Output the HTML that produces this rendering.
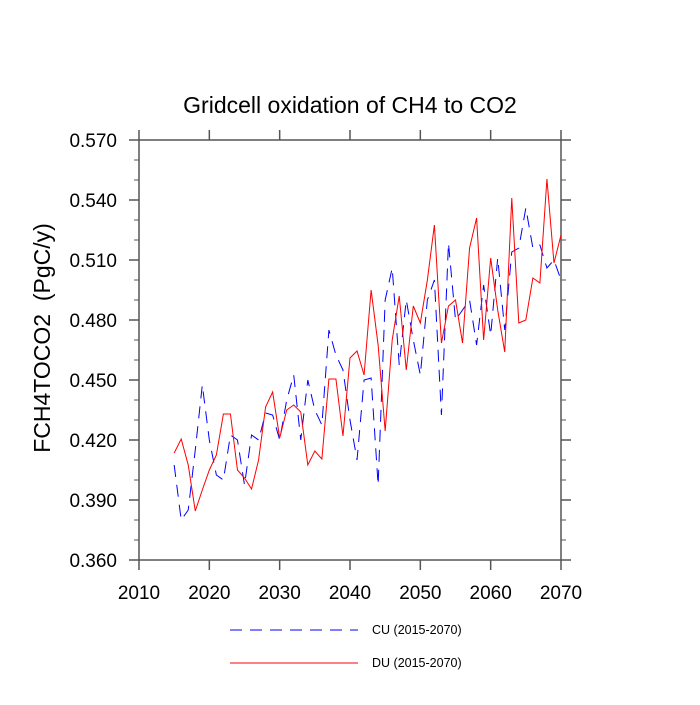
<!DOCTYPE html>
<html><head><meta charset="utf-8"><style>
body{margin:0;background:#fff;}
svg text{font-family:"Liberation Sans",Arial,sans-serif;}
</style></head><body>
<svg id="chart" width="700" height="700" xmlns="http://www.w3.org/2000/svg">
<rect width="700" height="700" fill="#fff"/>
<text x="350" y="113" font-size="23" text-anchor="middle">Gridcell oxidation of CH4 to CO2</text>
<text transform="translate(50,338) rotate(-90)" font-size="23" text-anchor="middle">FCH4TOCO2&#160;&#160;(PgC/y)</text>
<g id="axes"></g>
<g id="series"></g>
<g>
<line x1="230" y1="630" x2="358" y2="630" stroke="#00f" stroke-width="1" stroke-dasharray="12,8"/>
<text x="372" y="634" font-size="12.5">CU (2015-2070)</text>
<line x1="230" y1="663" x2="358" y2="663" stroke="#f00" stroke-width="1"/>
<text x="372" y="667" font-size="12.5">DU (2015-2070)</text>
</g>
</svg>
<script>
const years = [];
for (let y = 2015; y <= 2070; y++) years.push(y);
const cuValues = [0.4075,0.38,0.385,0.415,0.4475,0.42,0.4025,0.40,0.4225,0.42,0.3975,0.4225,0.42,0.4335,0.4325,0.42,0.44,0.4525,0.42,0.45,0.435,0.4275,0.475,0.4625,0.455,0.43,0.41,0.45,0.451,0.3975,0.49,0.506,0.4575,0.49,0.47,0.4525,0.49,0.50,0.4325,0.5185,0.48,0.485,0.49,0.4675,0.4975,0.4725,0.511,0.475,0.514,0.516,0.536,0.516,0.5175,0.506,0.51,0.50];
const duValues = [0.4135,0.4205,0.4075,0.3845,0.395,0.405,0.4125,0.433,0.433,0.405,0.401,0.3955,0.41,0.4365,0.444,0.421,0.435,0.4375,0.434,0.4075,0.4145,0.4105,0.4505,0.4505,0.422,0.461,0.4645,0.4525,0.495,0.4675,0.4245,0.47,0.492,0.455,0.487,0.4785,0.5,0.5275,0.4685,0.487,0.49,0.4685,0.516,0.531,0.47,0.511,0.485,0.464,0.541,0.4785,0.48,0.501,0.4985,0.5505,0.5085,0.5225];
const xTicks = [2010,2020,2030,2040,2050,2060,2070];
const yTicks = [0.360,0.390,0.420,0.450,0.480,0.510,0.540,0.570];
const yMinor = [0.370,0.380,0.400,0.410,0.430,0.440,0.460,0.470,0.490,0.500,0.520,0.530,0.550,0.560];

const L=139,R=561,T=140,B=560;
const xs = v => L + (v-2010)/60*(R-L);
const ys = v => B - (v-0.36)/0.21*(B-T);
const NS="http://www.w3.org/2000/svg";
const axes=document.getElementById('axes');
function mk(tag, attrs, parent){const e=document.createElementNS(NS,tag);for(const k in attrs)e.setAttribute(k,attrs[k]);parent.appendChild(e);return e;}
const frame=mk('rect',{x:L,y:T,width:R-L,height:B-T,fill:'none',stroke:'#555','stroke-width':1.5},axes);


xTicks.forEach(t=>{
  const x=xs(t);
  const a=mk('line',{x1:x,y1:B,x2:x,y2:B+10,stroke:'#555','stroke-width':1.5},axes);
  
  
  const b=mk('line',{x1:x,y1:T,x2:x,y2:T-10,stroke:'#555','stroke-width':1.5},axes);
  
  
  const tx=mk('text',{x:x,y:B+39,'font-size':19,'text-anchor':'middle'},axes);
  tx.textContent=t;
  
  
});
yTicks.forEach(t=>{
  const y=ys(t);
  const a=mk('line',{x1:L,y1:y,x2:L-10,y2:y,stroke:'#555','stroke-width':1.5},axes);
  
  
  const b=mk('line',{x1:R,y1:y,x2:R+10,y2:y,stroke:'#555','stroke-width':1.5},axes);
  
  
  const tx=mk('text',{x:L-22,y:y+7,'font-size':19,'text-anchor':'end'},axes);
  tx.textContent=t.toFixed(3);
  
  
});
yMinor.forEach(t=>{
  const y=ys(t);
  const a=mk('line',{x1:L,y1:y,x2:L-5,y2:y,stroke:'#555','stroke-width':1},axes);
  
  
  const b=mk('line',{x1:R,y1:y,x2:R+5,y2:y,stroke:'#555','stroke-width':1},axes);
  
  
});
const series=document.getElementById('series');
function pts(vals){return vals.map((v,i)=>xs(years[i]).toFixed(2)+','+ys(v).toFixed(2)).join(' ');}
const cu=mk('polyline',{points:pts(cuValues),fill:'none',stroke:'#00f','stroke-width':1,'stroke-dasharray':'12,8'},series);


const du=mk('polyline',{points:pts(duValues),fill:'none',stroke:'#f00','stroke-width':1},series);


</script>
</body></html>
